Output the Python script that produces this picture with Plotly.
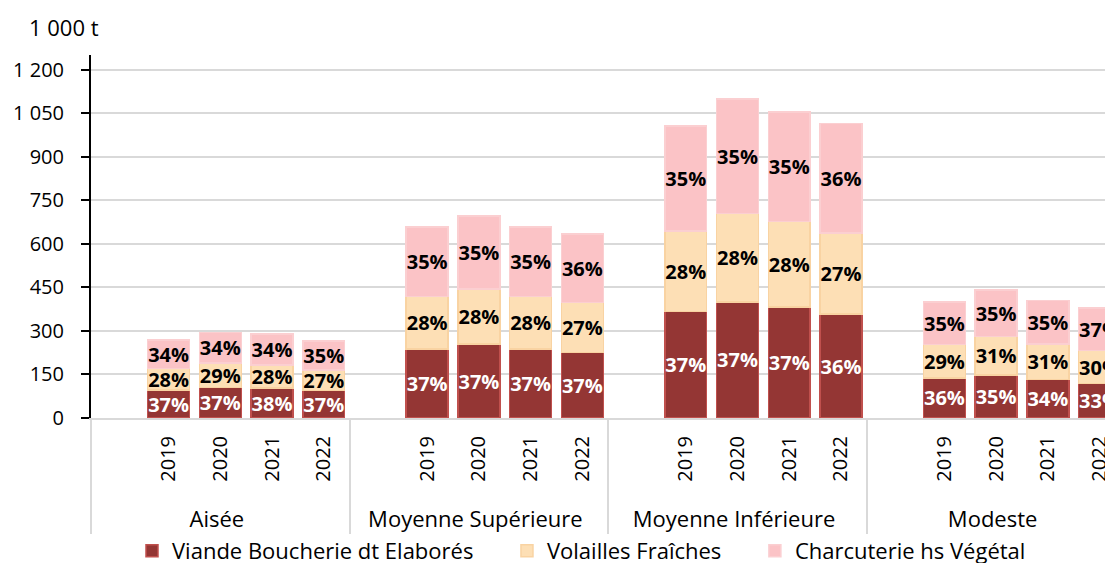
import plotly.graph_objects as go

groups = ["Aisée", "Moyenne Supérieure", "Moyenne Inférieure", "Modeste"]
years = ["2019", "2020", "2021", "2022"]

# segment values (1 000 t), per group, per year
viande = [[96, 105, 103, 94], [238, 254, 238, 226], [367, 400, 382, 358], [138, 148, 133, 118]]
volailles = [[75, 84, 79, 71], [180, 191, 180, 172], [277, 305, 294, 279], [115, 132, 122, 114]]
charcuterie = [[98, 106, 107, 101], [240, 251, 239, 236], [362, 394, 378, 377], [146, 160, 149, 147]]

# share labels (%)
pct_viande = [[37, 37, 38, 37], [37, 37, 37, 37], [37, 37, 37, 36], [36, 35, 34, 33]]
pct_volailles = [[28, 29, 28, 27], [28, 28, 28, 27], [28, 28, 28, 27], [29, 31, 31, 30]]
pct_charcuterie = [[34, 34, 34, 35], [35, 35, 35, 36], [35, 35, 35, 36], [35, 35, 35, 37]]

y_ticks = [0, 150, 300, 450, 600, 750, 900, 1050, 1200]
y_ticktext = ["0", "150", "300", "450", "600", "750", "900", "1 050", "1 200"]

series_names = ["Viande Boucherie dt Elaborés", "Volailles Fraîches", "Charcuterie hs Végétal"]

FONT = "Open Sans, sans-serif"
PAD = "\u00a0" * 3  # leading blank room under the rotated year labels
LEG_GAP = "\u00a0" * 5  # extra room between legend entries

# build multicategory axis: one blank slot before the years in each group
outer, inner = [], []
for g in groups:
    glab = f"<span style='font-size:22px'>{g}</span>"
    outer.append(glab)
    inner.append(" ")
    for y in years:
        outer.append(glab)
        inner.append(PAD + y)


def flatten(vals):
    out = []
    for gv in vals:
        out.append(None)
        out.extend(gv)
    return out


def flatten_text(vals):
    out = []
    for gv in vals:
        out.append("")
        out.extend([f"{v}%" for v in gv])
    return out


fig = go.Figure()
specs = [
    (viande, pct_viande, "#943634", "#C0504D", "white"),
    (volailles, pct_volailles, "#FDDFB5", "#F9D3A2", "black"),
    (charcuterie, pct_charcuterie, "#FBC3C6", "#FBCFD1", "black"),
]
for i, (name, (vals, pcts, fill, line, tcol)) in enumerate(zip(series_names, specs)):
    legend_name = name + (LEG_GAP if i < len(series_names) - 1 else "")
    fig.add_trace(go.Bar(
        x=[outer, inner], y=flatten(vals), name=legend_name,
        marker=dict(color=fill, line=dict(color=line, width=1.5)),
        text=flatten_text(pcts), textposition="inside", insidetextanchor="middle",
        constraintext="none",
        textfont=dict(family=FONT, size=20, color=tcol, weight="bold"),
        textangle=0,
    ))

# the page body has an 8px default margin: figure sized to end at the window edge
fig.update_layout(
    barmode="stack",
    bargap=0.19,
    width=1105, height=555,
    margin=dict(l=83, r=0, t=47, b=145, autoexpand=False),
    plot_bgcolor="white", paper_bgcolor="white",
    font=dict(family=FONT, size=20, color="black"),
    uniformtext=dict(minsize=20, mode="show"),
    showlegend=True,
    legend=dict(orientation="h", x=0.519, xref="container", xanchor="center",
                y=0.0216, yref="container", yanchor="middle",
                font=dict(family=FONT, size=22), traceorder="normal", itemwidth=30,
                bgcolor="rgba(0,0,0,0)"),
    annotations=[dict(text="1 000 t", xref="paper", yref="paper", x=-0.0626, y=1.077,
                      xanchor="left", yanchor="middle", showarrow=False,
                      font=dict(family=FONT, size=22, color="black"))],
)
fig.update_yaxes(
    range=[0, 1250], tickvals=y_ticks, ticktext=y_ticktext, automargin=False,
    showgrid=True, gridcolor="#d9d9d9", gridwidth=2,
    showline=True, linecolor="black", linewidth=2,
    ticks="outside", ticklen=8, tickcolor="black", tickwidth=2,
    ticklabelstandoff=13,
    zeroline=False, tickfont=dict(family=FONT, size=20),
)
fig.update_xaxes(
    type="multicategory", range=[-0.5, 19.26], automargin=False,
    tickangle=-90, showline=True, linecolor="#d9d9d9", linewidth=2,
    showdividers=True, dividercolor="#d9d9d9", dividerwidth=2,
    ticks="", ticklabelstandoff=8, tickfont=dict(family=FONT, size=20),
)

fig.write_html("out.html")
